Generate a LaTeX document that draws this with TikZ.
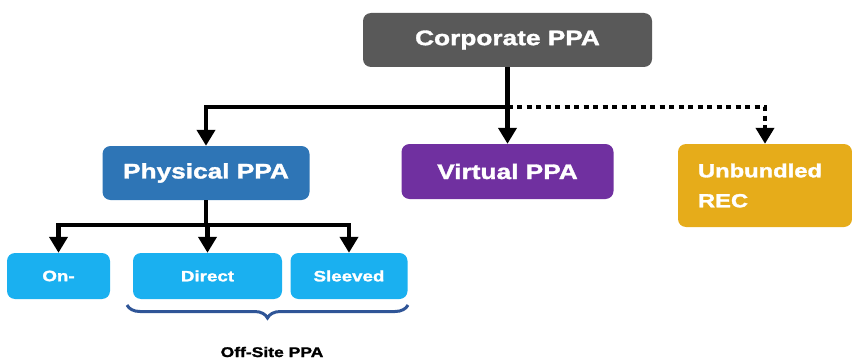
\documentclass[tikz,border=0pt]{standalone}
\usepackage{fontspec}
\setmainfont{Liberation Sans}
\newfontfamily\boxfont[FakeStretch=1.25, FakeBold=1.6]{Liberation Sans Bold}
\usepackage{tikz}
\usetikzlibrary{arrows.meta, decorations.pathreplacing}
\definecolor{corpgray}{HTML}{595959}
\definecolor{physblue}{HTML}{2E75B6}
\definecolor{virtpurple}{HTML}{7030A0}
\definecolor{recgold}{HTML}{E6AC1A}
\definecolor{subblue}{HTML}{1AB0F0}
\definecolor{bracenavy}{HTML}{2F5597}
\tikzset{
  ppabox/.style={rounded corners=8pt, inner sep=0pt, text=white, align=center},
  subbox/.style={ppabox, fill=subblue, minimum height=46pt, font=\boxfont\fontsize{15}{18}\selectfont},
  link/.style={line width=4.2pt, -{Triangle[width=18pt,length=16pt]}},
  dotlink/.style={link, dash pattern=on 5pt off 4.5pt}
}
\begin{document}
\begin{tikzpicture}[x=1pt,y=1pt,yscale=-1]
  \useasboundingbox (0,0) rectangle (852,361);

  % Top level
  \node [ppabox, fill=corpgray, minimum width=289pt, minimum height=54pt,
         font=\boxfont\fontsize{21}{25}\selectfont] (corp) at (507.5,40) {Corporate PPA};

  % Second level
  \node [ppabox, fill=physblue, minimum width=207pt, minimum height=54pt,
         font=\boxfont\fontsize{21}{25}\selectfont] (phys) at (206,173) {Physical PPA};
  \node [ppabox, fill=virtpurple, minimum width=212pt, minimum height=55pt,
         font=\boxfont\fontsize{21}{25}\selectfont] (virt) at (507.5,171.5) {Virtual PPA};
  \node [ppabox, fill=recgold, minimum width=174pt, minimum height=83pt, align=left,
         text width=134pt, inner xsep=20pt,
         font=\boxfont\fontsize{19}{30}\selectfont] (unb) at (765,185.5) {Unbundled\\REC};

  % Third level
  \node [subbox, minimum width=103pt] (onsite) at (58.5,276) {On-};
  \node [subbox, minimum width=149pt] (direct) at (207.5,276) {Direct};
  \node [subbox, minimum width=117pt] (sleeved) at (349,276) {Sleeved};

  % Connectors
  \coordinate (split) at (507.5,107);
  \draw [link] (corp.south) -- (virt.north);
  \draw [link] (split) -| (phys.north);
  \draw [dotlink] (split) -| (unb.north);

  \coordinate (psplit) at (206,225);
  \draw [link] (phys.south) -- (psplit) -| (direct.north);
  \draw [link] (psplit) -| (onsite.north);
  \draw [link] (psplit) -| (sleeved.north);

  % Brace and label
  \coordinate (bl) at (127,305);
  \coordinate (br) at (408,305);
  \draw [bracenavy, line width=3pt, decorate,
         decoration={brace, mirror, amplitude=13pt}] (bl) -- (br);
  \node [font=\boxfont\fontsize{14}{17}\selectfont, inner sep=0pt] (offsite) at (272,352) {Off-Site PPA};
\end{tikzpicture}
\end{document}
